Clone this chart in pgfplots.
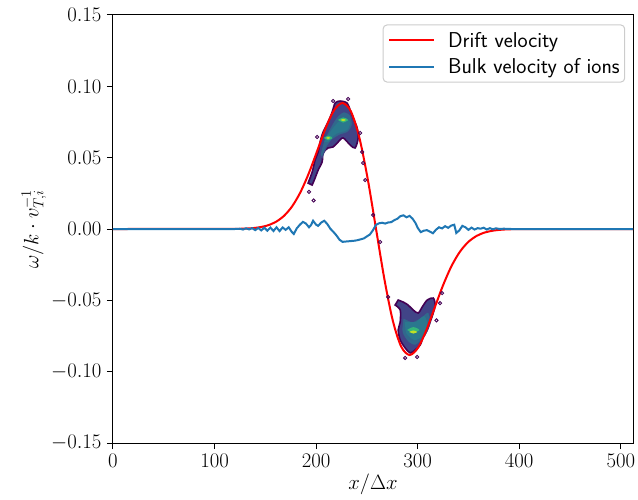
\documentclass[border=0pt]{standalone}
\usepackage{pgfplots}
\pgfplotsset{compat=1.18}

\definecolor{driftred}{RGB}{255,0,0}
\definecolor{bulkblue}{RGB}{31,119,180}
\definecolor{vir0}{RGB}{68,1,84}
\definecolor{vir1}{RGB}{65,68,135}
\definecolor{vir2}{RGB}{42,120,142}
\definecolor{vir3}{RGB}{53,183,121}
\definecolor{vir4}{RGB}{190,223,38}

\begin{document}
\begin{tikzpicture}
\begin{axis}[
    name=ax,
    scale only axis,
    width=520pt, height=428pt,
    xmin=0, xmax=512, ymin=-0.15, ymax=0.15,
    xtick={0,100,200,300,400,500},
    ytick={-0.15,-0.10,-0.05,0,0.05,0.10,0.15},
    scaled y ticks=false,
    tick align=outside,
    major tick length=6pt,
    tick style={black, line width=1pt},
    axis line style={line width=1pt},
    xtick pos=bottom, ytick pos=left,
    tick label style={font=\fontsize{20}{23}\selectfont},
    yticklabel style={xshift=-2pt, /pgf/number format/.cd, fixed, fixed zerofill, precision=2},
    xticklabel style={yshift=-2pt},
    label style={font=\fontsize{20}{23}\selectfont},
    xlabel={$x/\Delta x$},
    ylabel={$\omega/k\cdot v_{T,i}^{-1}$},
    xlabel style={yshift=1pt},
    ylabel style={yshift=-2pt},
    legend style={at={(0.985,0.978)}, anchor=north east, draw=black!20,
        line width=1pt, rounded corners=4pt,
        font=\sffamily\fontsize{21.5}{24}\selectfont,
        inner xsep=3pt, inner ysep=5pt, row sep=6pt},
    legend cell align=left,
    legend image code/.code={\draw[#1] (0pt,0pt) -- (45pt,0pt); \path (-2pt,0pt) (56pt,0pt);},
]
% contour levels, upper blob
\addplot[forget plot, draw=vir0, line width=1.6pt, fill=vir1, smooth, tension=0.5] coordinates {
(192.1,0.0322)(196.1,0.0399)(199.0,0.0484)(202.0,0.0540)(203.9,0.0610)(206.9,0.0680)
(211.8,0.0750)(215.8,0.0820)(218.7,0.0883)(223.6,0.0897)(230.5,0.0883)(233.5,0.0834)
(236.5,0.0778)(240.4,0.0708)(241.4,0.0638)(238.4,0.0568)(233.5,0.0589)(226.6,0.0638)
(221.7,0.0610)(216.7,0.0575)(211.8,0.0568)(206.9,0.0533)(205.9,0.0470)(202.0,0.0413)
(199.0,0.0357)(196.1,0.0308)} -- cycle;
\addplot[forget plot, draw=vir1, line width=0.8pt, fill=vir2!70!vir1, smooth, tension=0.5] coordinates {
(203.9,0.0519)(207.9,0.0624)(213.8,0.0708)(219.7,0.0778)(226.6,0.0820)(233.5,0.0799)
(235.5,0.0729)(231.5,0.0680)(223.6,0.0659)(215.8,0.0624)(209.9,0.0568)(205.9,0.0498)} -- cycle;
\addplot[forget plot, draw=none, fill=vir2, smooth, tension=0.5] coordinates {
(207.9,0.0610)(213.8,0.0680)(221.7,0.0750)(228.6,0.0778)(233.5,0.0750)(230.5,0.0694)
(219.7,0.0666)(211.8,0.0610)} -- cycle;
\addplot[forget plot, draw=none, fill=vir3, smooth, tension=0.6] coordinates {
(207.5,0.0638)(211.8,0.0654)(216.0,0.0638)(211.8,0.0622)} -- cycle;
\addplot[forget plot, draw=none, fill=vir3, smooth, tension=0.6] coordinates {
(221.5,0.0764)(226.6,0.0782)(231.5,0.0764)(226.6,0.0746)} -- cycle;
\addplot[forget plot, draw=none, fill=vir4, smooth, tension=0.6] coordinates {
(224.0,0.0764)(226.6,0.0772)(229.2,0.0764)(226.6,0.0756)} -- cycle;
\addplot[forget plot, draw=none, fill=vir4, smooth, tension=0.6] coordinates {
(209.8,0.0638)(211.8,0.0645)(213.8,0.0638)(211.8,0.0631)} -- cycle;
% contour levels, lower blob
\addplot[forget plot, draw=vir0, line width=1.6pt, fill=vir1, smooth, tension=0.5] coordinates {
(277.8,-0.0533)(282.8,-0.0568)(282.8,-0.0652)(280.8,-0.0708)(282.8,-0.0778)(287.7,-0.0834)
(292.6,-0.0869)(297.5,-0.0848)(302.5,-0.0813)(305.4,-0.0757)(309.4,-0.0708)(312.3,-0.0652)
(315.3,-0.0589)(317.2,-0.0533)(315.3,-0.0484)(309.4,-0.0498)(304.4,-0.0547)(300.5,-0.0589)
(295.6,-0.0568)(290.6,-0.0533)(285.7,-0.0512)(280.8,-0.0498)} -- cycle;
\addplot[forget plot, draw=vir1, line width=0.8pt, fill=vir2!70!vir1, smooth, tension=0.5] coordinates {
(285.7,-0.0624)(284.7,-0.0722)(290.6,-0.0792)(298.5,-0.0813)(307.4,-0.0743)(312.3,-0.0652)
(310.3,-0.0582)(302.5,-0.0624)(294.6,-0.0652)} -- cycle;
\addplot[forget plot, draw=none, fill=vir2, smooth, tension=0.5] coordinates {
(287.7,-0.0652)(288.7,-0.0729)(296.6,-0.0778)(304.4,-0.0750)(309.4,-0.0673)(306.4,-0.0610)
(298.5,-0.0652)} -- cycle;
\addplot[forget plot, draw=none, fill=vir3, smooth, tension=0.6] coordinates {
(289.6,-0.0708)(295.6,-0.0688)(301.6,-0.0708)(295.6,-0.0728)} -- cycle;
\addplot[forget plot, draw=none, fill=vir4, smooth, tension=0.6] coordinates {
(291.6,-0.0722)(295.6,-0.0711)(299.6,-0.0722)(295.6,-0.0733)} -- cycle;
% isolated contour islands
\addplot[forget plot, only marks, mark=o, mark size=1.6pt, draw=vir0, line width=0.9pt] coordinates {
(216.7,0.0897)(231.5,0.0911)(201.0,0.0645)(243.3,0.0673)(245.3,0.0540)(246.3,0.0463)
(248.3,0.0343)(193.0,0.0260)(197.5,0.0200)(256.2,0.0098)(263.0,-0.0091)
(270.9,-0.0477)(324.0,-0.0449)(322.0,-0.0520)(299.5,-0.0897)(287.7,-0.0904)(318.5,-0.0640)};
% drift velocity
\addplot[driftred, line width=2pt, smooth] coordinates {
(0,0)(110.5,0.00003)(127,0.00020)(135.25,0.00048)(143.5,0.00112)(151.75,0.00241)
(160,0.00485)(168.25,0.00913)(176.5,0.01600)(184.75,0.02606)(193,0.03941)(201.25,0.05512)
(209.5,0.07091)(217.75,0.08333)(226,0.08831)(234.25,0.08242)(242.5,0.06424)(250.75,0.03528)
(259,0)(267.25,-0.03528)(275.5,-0.06424)(283.75,-0.08242)(292,-0.08831)(300.25,-0.08333)
(308.5,-0.07091)(316.75,-0.05512)(325,-0.03941)(333.25,-0.02606)(341.5,-0.01600)
(349.75,-0.00913)(358,-0.00485)(366.25,-0.00241)(374.5,-0.00112)(382.75,-0.00048)
(391,-0.00020)(407.5,-0.00003)(512,0)};
\addlegendentry{Drift velocity}
% bulk velocity of ions
\addplot[bulkblue, line width=2pt] coordinates {
(0,0)(120,0)(125,0.0002)(128,-0.0004)(131,0.0005)(134,-0.0003)(137,0.0006)(140,-0.0008)
(143,0.0007)(146,-0.0010)(149,0.0009)(152,-0.0012)(155,0.0010)(158,-0.0014)(161,0.0012)
(164,-0.0015)(167,0.0011)(170,-0.0006)(173,0.0012)(176,-0.0020)(178,-0.0035)(181,0.0005)
(184,0.0030)(187,0.0050)(190,0.0038)(193,0.0012)(195,0.0028)(197,0.0058)(200,0.0030)
(202,0.0022)(205,0.0045)(208,0.0058)(211,0.0035)(214,0.0002)(217,-0.0020)(220,-0.0045)
(223,-0.0075)(226,-0.0090)(229,-0.0088)(232,-0.0086)(235,-0.0084)(238,-0.0082)(241,-0.0078)
(244,-0.0072)(247,-0.0066)(250,-0.0052)(253,-0.0038)(256,-0.0008)(259,0.0030)(262,0.0040)
(265,0.0044)(268,0.0038)(271,0.0046)(274,0.0048)(277,0.0062)(280,0.0072)(283,0.0090)
(286,0.0096)(289,0.0082)(292,0.0092)(295,0.0072)(298,0.0040)(300,0.0008)(303,-0.0022)
(306,-0.0012)(309,-0.0008)(312,-0.0018)(315,-0.0030)(318,-0.0005)(321,0.0012)(324,0.0004)
(327,0.0020)(330,0.0008)(333,0.0024)(336,0.0030)(338,-0.0028)(341,-0.0010)(344,0.0022)
(347,0.0012)(350,-0.0006)(353,0.0010)(356,-0.0004)(359,0.0006)(362,0.0002)(365,0.0009)
(368,-0.0004)(371,0.0006)(374,-0.0002)(377,0.0005)(380,0.0001)(385,0.0002)(392,0)(512,0)};
\addlegendentry{Bulk velocity of ions}
\end{axis}
\pgfresetboundingbox
\path (ax.south west) ++(-113pt,-56pt) coordinate (bbsw);
\path (ax.north east) ++(5pt,15pt) coordinate (bbne);
\path[use as bounding box] (bbsw) rectangle (bbne);
\end{tikzpicture}
\end{document}
